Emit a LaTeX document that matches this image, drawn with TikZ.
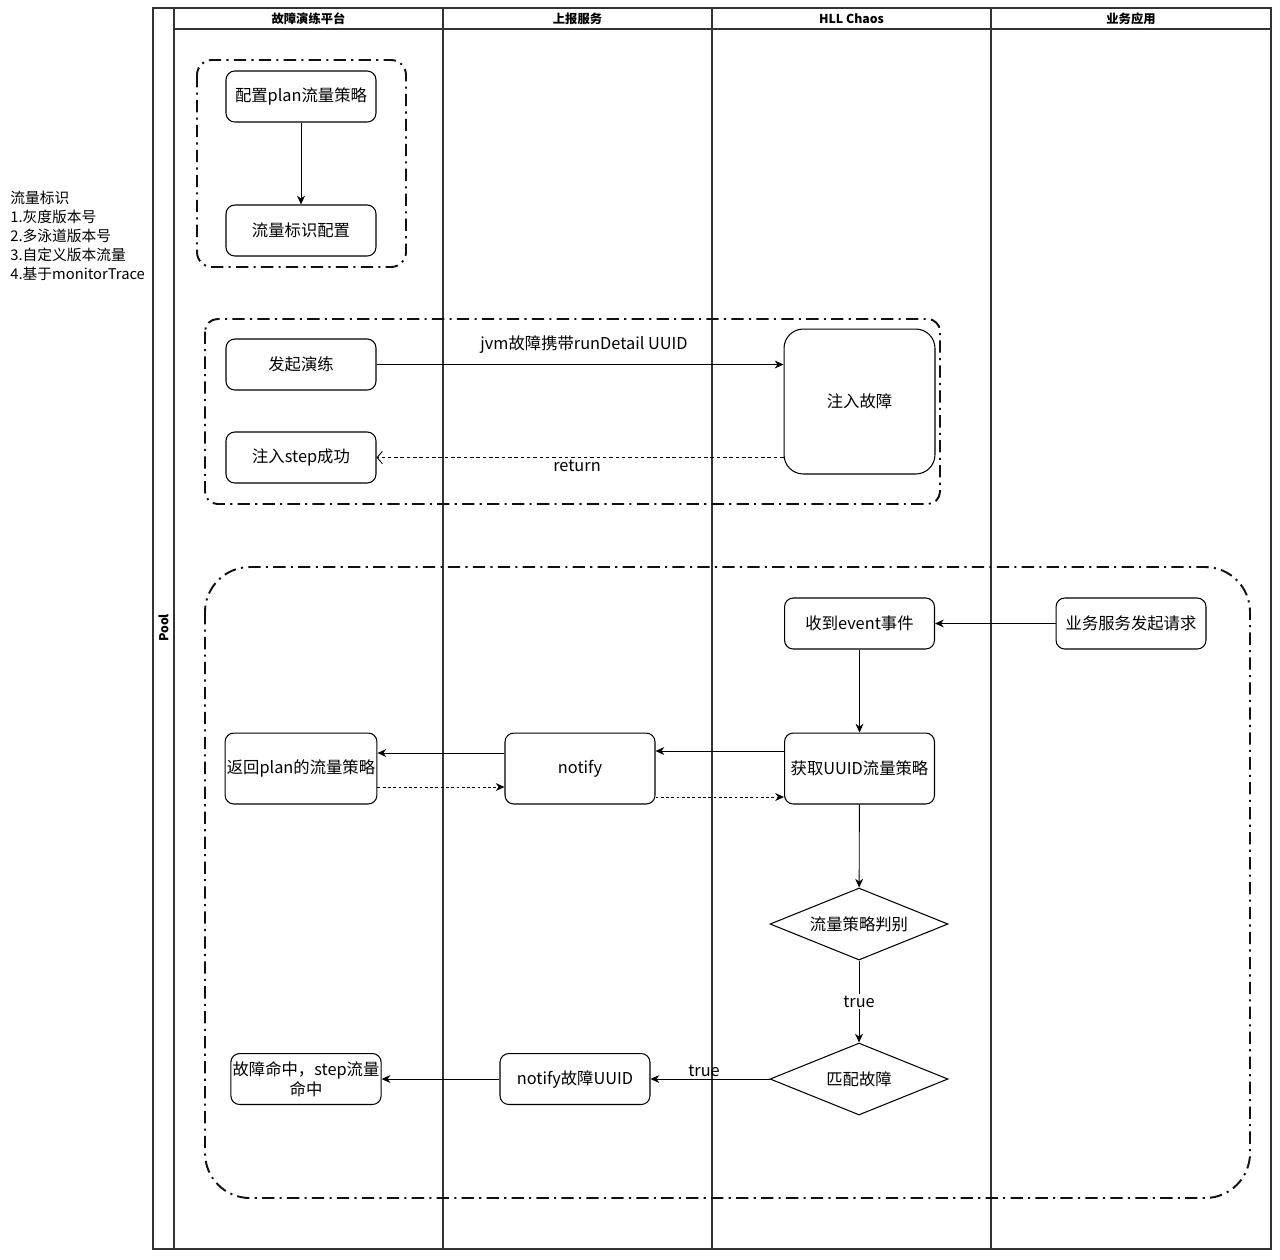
\documentclass[tikz,border=0pt]{standalone}
\usepackage{fontspec}
\setmainfont{Noto Sans CJK SC}
\usepackage{xcolor}
\usetikzlibrary{shapes.geometric, arrows.meta, positioning, calc}
\definecolor{lanedraw}{HTML}{333333}
\definecolor{grpdraw}{HTML}{111111}
\tikzset{
  blk/.style={rectangle, rounded corners=5pt, draw=black, fill=white, line width=0.6pt, align=center, font=\fontsize{9.3}{11.5}\selectfont, inner sep=1pt, minimum width=3cm, minimum height=1.02cm},
  tall/.style={blk, minimum height=1.42cm},
  big/.style={blk, rounded corners=11pt, minimum width=3.02cm, minimum height=2.9cm},
  decision/.style={diamond, aspect=2.47, draw=black, fill=white, line width=0.6pt, align=center, font=\fontsize{9.3}{11.5}\selectfont, inner sep=0pt, minimum width=3.56cm, minimum height=1.44cm},
  grp/.style={draw=grpdraw, line width=1.1pt, dash pattern=on 7pt off 3pt on 1.2pt off 3pt},
  hdr/.style={font=\bfseries\fontsize{7}{8}\selectfont},
  lane/.style={draw=lanedraw, line width=0.6pt},
  note/.style={align=left, font=\fontsize{8.4}{10.8}\selectfont, inner sep=0pt},
  lab/.style={font=\fontsize{9.3}{11}\selectfont, inner sep=1pt},
  arr/.style={->, >={Stealth[length=5pt, width=4.5pt]}, line width=0.5pt, draw=black},
  arrdot/.style={arr, dash pattern=on 1.6pt off 1.4pt},
  arrret/.style={-{Straight Barb[length=3pt, width=7pt]}, line width=0.5pt, draw=black, dash pattern=on 2pt off 1.6pt},
}

\begin{document}
\begin{tikzpicture}[x=0.02cm, y=-0.02cm]
  \useasboundingbox (0,0) rectangle (1280,1259);
  % pool and lanes
  \draw[lane, line width=0.8pt] (153,8) rectangle (1271,1249);
  \draw[lane] (174,8) -- (174,1249);
  \draw[lane] (174,29) -- (1271,29);
  \draw[lane] (443,8) -- (443,1249);
  \draw[lane] (712,8) -- (712,1249);
  \draw[lane] (991,8) -- (991,1249);
  \node[hdr, rotate=90] (pool) at (163.5,628) {Pool};
  \node[hdr] (h1) at (308.5,18.5) {故障演练平台};
  \node[hdr] (h2) at (577.5,18.5) {上报服务};
  \node[hdr] (h3) at (851.5,18.5) {HLL Chaos};
  \node[hdr] (h4) at (1131,18.5) {业务应用};
  \node[note, anchor=north west] (flagnote) at (10,191)
    {流量标识\\1.灰度版本号\\2.多泳道版本号\\3.自定义版本流量\\4.基于monitorTrace};
  % groups
  \draw[grp, rounded corners=0.3cm] (197,60) rectangle (406,267);
  \draw[grp, rounded corners=0.25cm] (205,319) rectangle (940,504);
  \draw[grp, rounded corners=0.9cm] (205,567) rectangle (1250,1198);
  % config
  \node[blk] (cfgplan) at (301,96.5) {配置plan流量策略};
  \node[blk] (flagcfg) at (301,230.5) {流量标识配置};
  \draw[arr] (cfgplan) -- (flagcfg);
  % inject
  \node[blk] (start) at (301,364.5) {发起演练};
  \node[blk] (injok) at (301,457.5) {注入step成功};
  \node[big] (inject) at (859.5,401.5) {注入故障};
  \draw[arr] (start.east) -- node[lab, above=5pt, pos=0.51]{jvm故障携带runDetail UUID} (start.east -| inject.west);
  \draw[arrret] (inject.west |- injok.east) -- (injok.east);
  \node[lab, fill=white] (retlab) at (577,466) {return};
  % request flow
  \node[blk] (recv) at (859.5,623.5) {收到event事件};
  \node[blk] (bizreq) at (1131,623.5) {业务服务发起请求};
  \node[tall] (retplan) at (301,768.5) {返回plan的流量策略};
  \node[tall] (notify) at (580,768.5) {notify};
  \node[tall] (getuuid) at (859.5,768.5) {获取UUID流量策略};
  \node[decision] (judge) at (859,924) {流量策略判别};
  \node[decision] (match) at (859,1079) {匹配故障};
  \node[blk] (notifyuuid) at (575,1079) {notify故障UUID};
  \node[blk] (hit) at (306,1079) {故障命中，step流量\\命中};
  \draw[arr] (bizreq) -- (recv);
  \draw[arr] (recv) -- (getuuid);
  \draw[arr] ([yshift=0.35cm]getuuid.west) -- ([yshift=0.35cm]getuuid.west -| notify.east);
  \draw[arr] ([yshift=0.31cm]notify.west) -- ([yshift=0.31cm]notify.west -| retplan.east);
  \draw[arrdot] ([yshift=-0.37cm]retplan.east) -- ([yshift=-0.37cm]retplan.east -| notify.west);
  \draw[arrdot] ([yshift=-0.57cm]notify.east) -- ([yshift=-0.57cm]notify.east -| getuuid.west);
  \draw[arr] (getuuid) -- (judge);
  \draw[arr] (judge) -- node[lab, fill=white]{true} (match);
  \draw[arr] (match) -- node[lab, above=0pt, pos=0.55]{true} (notifyuuid);
  \draw[arr] (notifyuuid) -- (hit);
\end{tikzpicture}
\end{document}
